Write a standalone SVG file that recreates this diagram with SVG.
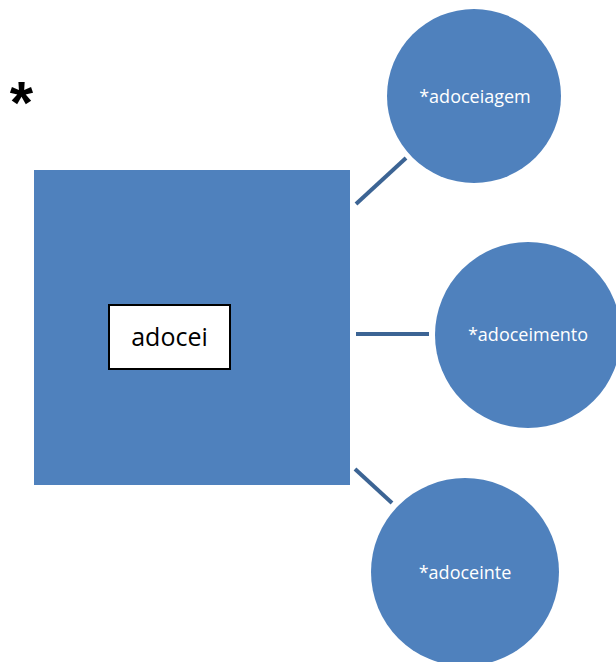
<svg xmlns="http://www.w3.org/2000/svg" width="616" height="662" viewBox="0 0 616 662">
<style>
.shape{fill:#4f81bd}
.conn{stroke:#3c6494;stroke-width:4;fill:none}
.ct{font-family:"Open Sans","Liberation Sans",sans-serif;font-size:18px;fill:#ffffff;text-anchor:middle;dominant-baseline:central}
.lt{font-family:"Open Sans","Liberation Sans",sans-serif;font-size:25px;fill:#000000;text-anchor:middle;dominant-baseline:central}
</style>
<rect width="616" height="662" fill="#ffffff"/>
<text x="21.5" y="123" font-family="Liberation Sans, sans-serif" font-size="60" font-weight="bold" text-anchor="middle" fill="#000000">*</text>
<g id="connectors">
<line class="conn" x1="356" y1="204" x2="406" y2="158"/>
<line class="conn" x1="356" y1="334" x2="429" y2="334"/>
<line class="conn" x1="355" y1="469" x2="392" y2="503"/>
</g>
<g id="root">
<rect class="shape" x="34" y="170" width="316" height="315"/>
<rect x="109" y="305" width="121" height="64" fill="#ffffff" stroke="#000000" stroke-width="2"/>
<text class="lt" x="169.5" y="336">adocei</text>
</g>
<g id="n1">
<circle class="shape" cx="474" cy="96" r="87"/>
<text class="ct" x="475" y="96">*adoceiagem</text>
</g>
<g id="n2">
<circle class="shape" cx="528" cy="335" r="93"/>
<text class="ct" x="528" y="334">*adoceimento</text>
</g>
<g id="n3">
<circle class="shape" cx="465" cy="572" r="94"/>
<text class="ct" x="465" y="572">*adoceinte</text>
</g>
</svg>
